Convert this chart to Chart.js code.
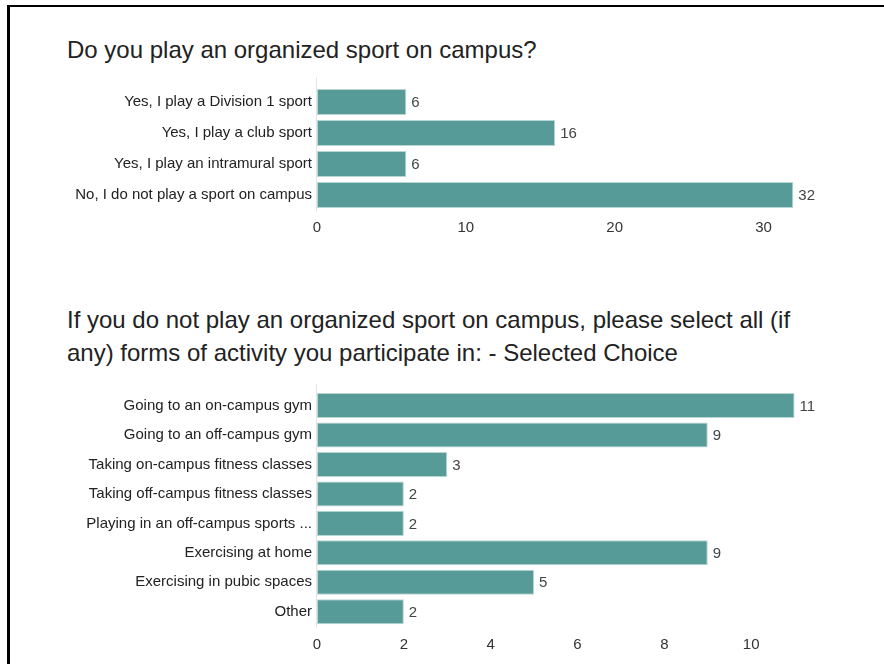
<!DOCTYPE html>
<html>
<head>
<meta charset="utf-8">
<script src="https://cdn.jsdelivr.net/npm/chart.js@4/dist/chart.umd.min.js"></script>
<style>
  body { margin: 0; background: #fff; font-family: "Liberation Sans", Arial, sans-serif; }
  #page { position: relative; width: 884px; height: 664px; overflow: hidden; }
  #frame { position: absolute; left: 7px; top: 5px; width: 900px; height: 700px;
           border-top: 2px solid #000; border-left: 3px solid #000; }
  .title { position: absolute; left: 67px; font-size: 24px; line-height: 33px; color: #222; white-space: nowrap; }
  canvas { position: absolute; left: 0; }
</style>
</head>
<body>
<div id="page">
  <div id="frame"></div>
  <div class="title" style="top:33px">Do you play an organized sport on campus?</div>
  <div class="title" style="top:303px">If you do not play an organized sport on campus, please select all (if<br>any) forms of activity you participate in: - Selected Choice</div>
  <canvas id="ChartSport" style="top:70px"></canvas>
  <canvas id="ChartActivity" style="top:370px"></canvas>
</div>
<script>
var sportLabels = ['Yes, I play a Division 1 sport', 'Yes, I play a club sport', 'Yes, I play an intramural sport', 'No, I do not play a sport on campus'];
var sportCounts = [6, 16, 6, 32];
var sportTicks = [0, 10, 20, 30];

var activityLabels = ['Going to an on-campus gym', 'Going to an off-campus gym', 'Taking on-campus fitness classes', 'Taking off-campus fitness classes', 'Playing in an off-campus sports ...', 'Exercising at home', 'Exercising in pubic spaces', 'Other'];
var activityCounts = [11, 9, 3, 2, 2, 9, 5, 2];
var activityTicks = [0, 2, 4, 6, 8, 10];

var barColor = '#579b98';
var barEdge = '#b8d6d4';

// numbers at the end of each bar + the zero baseline
var barValues = {
  id: 'barValues',
  afterDatasetsDraw: function(chart, args, opts) {
    var ctx = chart.ctx;
    var area = chart.chartArea;
    var x0 = chart.scales.x.getPixelForValue(0);
    ctx.save();
    ctx.strokeStyle = '#e3e3e3';
    ctx.lineWidth = 1;
    ctx.beginPath();
    ctx.moveTo(Math.round(x0) - 0.5, area.top - opts.lineAbove);
    ctx.lineTo(Math.round(x0) - 0.5, area.bottom + 1);
    ctx.stroke();
    ctx.font = '15px "Liberation Sans", Arial, sans-serif';
    ctx.fillStyle = '#444';
    ctx.textBaseline = 'middle';
    ctx.textAlign = 'left';
    var meta = chart.getDatasetMeta(0);
    var data = chart.data.datasets[0].data;
    meta.data.forEach(function(bar, i) {
      ctx.fillText(data[i], bar.x + 5, bar.y + 1);
    });
    ctx.restore();
  }
};

function makeChart(id, height, labels, counts, max, tickList, pad, axisH, lineAbove, barPct) {
  var canvas = document.getElementById(id);
  canvas.width = 884;
  canvas.height = height;
  canvas.style.width = '884px';
  canvas.style.height = height + 'px';
  return new Chart(canvas.getContext('2d'), {
    type: 'bar',
    data: {
      labels: labels,
      datasets: [{
        data: counts,
        backgroundColor: barColor,
        borderColor: barEdge,
        borderWidth: 1,
        borderSkipped: false,
        barPercentage: barPct,
        categoryPercentage: 1
      }]
    },
    options: {
      indexAxis: 'y',
      responsive: false,
      animation: false,
      layout: { padding: pad },
      plugins: {
        legend: { display: false },
        tooltip: { enabled: false },
        barValues: { lineAbove: lineAbove }
      },
      scales: {
        x: {
          min: 0,
          max: max,
          grid: { display: false },
          border: { display: false },
          afterFit: function(axis) { axis.height = axisH; },
          afterBuildTicks: function(axis) {
            axis.ticks = tickList.map(function(v) { return { value: v }; });
          },
          ticks: {
            padding: pad.tickPad,
            color: '#333',
            font: { size: 15, family: '"Liberation Sans", Arial, sans-serif' }
          }
        },
        y: {
          grid: { display: false, drawTicks: false },
          border: { display: false },
          afterFit: function(axis) { axis.width = 317; },
          ticks: {
            padding: 5,
            color: '#222',
            font: { size: 15, family: '"Liberation Sans", Arial, sans-serif' }
          }
        }
      }
    },
    plugins: [barValues]
  });
}

makeChart('ChartSport', 180, sportLabels, sportCounts, 35, sportTicks,
  { left: 0, right: 46, top: 16.5, bottom: 4.5, tickPad: 0 }, 35, 9, 0.84);

makeChart('ChartActivity', 290, activityLabels, activityCounts, 12, activityTicks,
  { left: 0, right: 46, top: 20.8, bottom: 3.5, tickPad: 1.5 }, 30, 7, 0.85);
</script>
</body>
</html>
